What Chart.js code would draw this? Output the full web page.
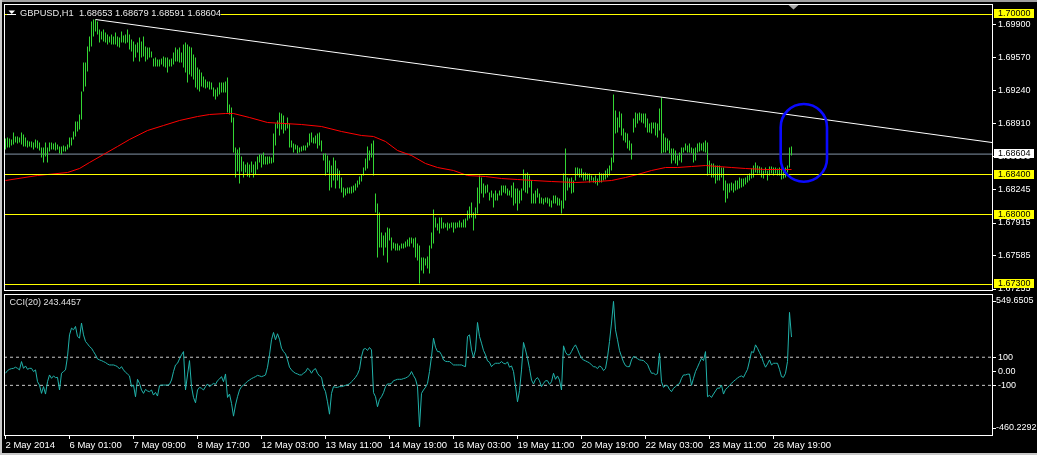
<!DOCTYPE html>
<html lang="en">
	<head>
		<meta charset="UTF-8" />
		<title>GBPUSD,H1</title>
		<script src="https://cdn.jsdelivr.net/npm/chart.js@4.4.3/dist/chart.umd.min.js"></script>
		<style>
			html,
			body {
				margin: 0;
				padding: 0;
				background: #000;
			}
			body {
				width: 1037px;
				height: 455px;
				position: relative;
				overflow: hidden;
			}
			canvas {
				position: absolute;
				left: 0;
			}
			#priceChart {
				top: 0;
			}
			#cciChart {
				top: 292px;
			}
		</style>
	</head>
	<body>
		<canvas id="priceChart" width="1037" height="292"></canvas>
		<canvas id="cciChart" width="1037" height="163"></canvas>

		<script>
			// hourly bars, left to right (bar 0 = 2 May 2014)
			const barHigh = [
				1.6876,1.6877,1.6876,1.6875,1.6882,1.6878,1.6878,1.6877,1.6882,1.688,
				1.6877,1.6874,1.6873,1.6873,1.6872,1.6875,1.6874,1.6872,1.6867,1.6867,
				1.6872,1.6867,1.6872,1.6872,1.6871,1.6872,1.687,1.6868,1.6868,1.6869,
				1.6868,1.687,1.6877,1.6877,1.6883,1.6893,1.6893,1.69,1.6923,1.6952,
				1.6952,1.6968,1.6978,1.6993,1.6995,1.6995,1.6993,1.6985,1.6983,1.6985,
				1.6982,1.698,1.6978,1.698,1.6978,1.6982,1.6978,1.6977,1.6983,1.6979,
				1.698,1.6985,1.698,1.6975,1.6973,1.697,1.6972,1.6977,1.6973,1.6978,
				1.6968,1.6967,1.6967,1.6963,1.6956,1.6957,1.6955,1.6955,1.6956,1.6958,
				1.6957,1.6957,1.6955,1.6956,1.6962,1.6967,1.6965,1.6967,1.6962,1.697,
				1.6972,1.697,1.6968,1.6967,1.696,1.6957,1.6947,1.6945,1.6942,1.6938,
				1.6935,1.6933,1.6933,1.6932,1.6927,1.6925,1.6927,1.6932,1.6932,1.6932,
				1.6933,1.6937,1.691,1.6907,1.6897,1.6867,1.6865,1.6867,1.6858,1.6853,
				1.685,1.6852,1.685,1.6853,1.685,1.6853,1.6858,1.686,1.686,1.6862,
				1.6858,1.6858,
				1.6858,1.6857,1.6881,1.6891,1.6894,1.6902,1.6901,1.6899,1.6891,1.6897,
				1.6891,1.6874,1.6871,1.687,1.6869,1.6867,1.6868,1.6869,1.6869,1.6872,
				1.6881,1.6882,1.6877,1.6879,1.6881,1.6882,1.6874,1.6861,1.6861,1.6859,
				1.6854,1.6849,1.6857,1.6854,1.6846,1.6844,1.6837,1.6827,1.6826,1.6827,
				1.6827,1.6828,1.6829,1.6831,1.6834,1.6838,1.684,1.6847,1.6856,1.6868,
				1.6864,1.6871,1.6874,1.6821,1.6811,1.6802,1.6782,1.6779,1.6782,1.6787,
				1.6786,1.6777,1.6772,1.6771,1.6771,1.6769,1.6771,1.6771,1.6773,1.6775,
				1.6777,1.6777,1.6776,1.6777,1.6771,1.6769,1.6757,1.6757,1.6756,1.6758,
				1.6769,1.6782,1.6805,1.6797,1.6791,1.6797,1.6797,1.6792,1.6791,1.6792,
				1.6791,1.6792,1.6792,1.6792,1.6792,1.6794,1.6792,1.6795,1.6796,1.6804,
				1.6808,1.6812,1.6802,1.6807,1.6827,1.6839,1.6837,1.6831,1.6829,1.683,
				1.6822,1.6824,1.6821,1.6824,1.6821,1.6824,1.6829,1.6829,1.6829,1.6826,
				1.6824,1.6829,1.6832,1.6826,1.6826,1.6824,1.6826,1.6845,1.6841,1.6842,
				1.6839,1.6834,
				1.6821,1.6824,1.6826,1.6821,1.6817,1.6816,1.6817,1.6817,1.6816,1.6814,
				1.6819,1.6819,1.6817,1.6816,1.6814,1.6841,1.6866,1.6837,1.6836,1.6837,
				1.6834,1.6847,1.6847,1.6846,1.6846,1.6842,1.6842,1.6841,1.6841,1.6839,
				1.6837,1.6839,1.6836,1.6842,1.6841,1.6841,1.6844,1.6846,1.6849,1.6857,
				1.692,1.6904,1.6897,1.6903,1.6901,1.6886,1.6882,1.6881,1.6874,1.6871,
				1.6896,1.6902,1.6901,1.6902,1.6901,1.6901,1.6901,1.6896,1.6891,1.6892,
				1.6892,1.6892,1.6891,1.6906,1.6917,1.6881,1.6877,1.6876,1.6874,1.6866,
				1.6866,1.6864,1.6859,1.6862,1.6867,1.6867,1.6871,1.6869,1.6871,1.6867,
				1.6866,1.6867,1.6871,1.6872,1.6871,1.6872,1.6874,1.6872,1.6854,1.6851,
				1.6851,1.6849,1.6849,1.6849,1.6847,1.6847,1.6834,1.6831,1.6831,1.6832,
				1.6831,1.6834,1.6834,1.6837,1.6836,1.6836,1.6837,1.6839,1.6841,1.6846,
				1.6849,1.6852,1.6849,1.6848,1.6847,1.6844,1.6847,1.6844,1.6848,1.6848,
				1.6847,1.6847,1.6846,1.6847,1.6846,1.6844,1.6847,1.6849,1.6867,1.6868,
			];
			const barLow = [
				1.6865,1.6867,1.6867,1.6869,1.687,1.6872,1.6871,1.6872,1.687,1.6868,
				1.6868,1.6867,1.6868,1.6867,1.6865,1.6867,1.6866,1.6864,1.6857,1.6852,
				1.6858,1.6852,1.6863,1.6865,1.6865,1.6864,1.6865,1.6861,1.686,1.6863,
				1.6863,1.6865,1.6867,1.6869,1.6875,1.6878,1.6883,1.6885,1.6895,1.6923,
				1.6928,1.6943,1.6963,1.6968,1.6978,1.6983,1.698,1.6972,1.6975,1.6973,
				1.6972,1.697,1.6972,1.697,1.697,1.697,1.6968,1.6967,1.6972,1.6972,
				1.6971,1.6972,1.6965,1.6963,1.6953,1.6957,1.6962,1.6953,1.6957,1.6958,
				1.6953,1.6955,1.6957,1.6957,1.6948,1.6948,1.6948,1.6948,1.695,1.6948,
				1.6947,1.6942,1.6948,1.6948,1.695,1.6953,1.6953,1.6952,1.6952,1.6947,
				1.6942,1.6932,1.694,1.6938,1.6935,1.6927,1.6925,1.6923,1.6928,1.6927,
				1.6926,1.6927,1.6925,1.6925,1.6918,1.6915,1.6918,1.692,1.6922,1.6922,
				1.6922,1.6902,1.69,1.6892,1.6862,1.6837,1.6843,1.6831,1.6843,1.6837,
				1.6842,1.6838,1.6837,1.6842,1.6837,1.684,1.6845,1.6852,1.6847,1.685,
				1.685,1.685,
				1.6851,1.6851,1.6852,1.6869,1.6886,1.6879,1.6885,1.6881,1.6884,1.6886,
				1.6867,1.6867,1.6862,1.6865,1.6861,1.6862,1.6863,1.6864,1.6864,1.6867,
				1.6869,1.6872,1.6871,1.6871,1.6866,1.6869,1.6863,1.6854,1.6839,1.6842,
				1.6824,1.6827,1.6834,1.6826,1.6834,1.6826,1.6822,1.6817,1.6819,1.6821,
				1.6821,1.6821,1.6822,1.6824,1.6827,1.683,1.6833,1.6839,1.6844,1.6846,
				1.6854,1.6857,1.6839,1.6802,1.6757,1.6767,1.6767,1.6759,1.6767,1.6752,
				1.6774,1.6764,1.6766,1.6764,1.6764,1.6764,1.6766,1.6766,1.6767,1.6768,
				1.6768,1.6771,1.6767,1.6757,1.6754,1.6731,1.6744,1.6741,1.6749,1.6746,
				1.6741,1.6766,1.6771,1.6787,1.6784,1.6781,1.6786,1.6786,1.6787,1.6784,
				1.6786,1.6787,1.6782,1.6786,1.6787,1.6787,1.6787,1.6787,1.6787,1.6794,
				1.6796,1.6797,1.6784,1.6796,1.6801,1.6811,1.6821,1.6817,1.6821,1.6822,
				1.6814,1.6817,1.6807,1.6814,1.6814,1.6819,1.6819,1.6822,1.6821,1.6819,
				1.6819,1.6817,1.6809,1.6811,1.6804,1.6811,1.6814,1.6824,1.6822,1.6821,
				1.6827,1.6811,
				1.6811,1.6811,1.6817,1.6811,1.6811,1.681,1.6812,1.6811,1.6808,1.6807,
				1.6811,1.6811,1.6809,1.6809,1.6801,1.6806,1.6814,1.6824,1.6827,1.6821,
				1.6822,1.6834,1.6839,1.6837,1.6837,1.6834,1.6834,1.6835,1.6832,1.6834,
				1.6832,1.6831,1.6829,1.6832,1.6832,1.6834,1.6835,1.6837,1.6839,1.6844,
				1.6852,1.6881,1.6882,1.6887,1.6879,1.6874,1.6872,1.6866,1.6864,1.6855,
				1.6882,1.6887,1.6891,1.6894,1.6892,1.6891,1.6887,1.6882,1.6882,1.6881,
				1.6886,1.6879,1.6877,1.6884,1.6861,1.6862,1.6862,1.6864,1.6861,1.6851,
				1.6854,1.6851,1.6849,1.6854,1.6852,1.6862,1.6864,1.6862,1.6862,1.6861,
				1.6852,1.6854,1.6862,1.6863,1.6864,1.6863,1.6862,1.6839,1.6841,1.6837,
				1.6837,1.6831,1.6834,1.6834,1.6837,1.6824,1.6812,1.6816,1.6822,1.6824,
				1.6822,1.6824,1.6825,1.6826,1.6827,1.6828,1.683,1.6832,1.6834,1.6836,
				1.6837,1.6842,1.6841,1.6841,1.6837,1.6836,1.6841,1.6834,1.6839,1.6841,
				1.6839,1.6841,1.6839,1.6839,1.6835,1.6836,1.6837,1.6842,1.6847,1.6859,
			];

			// moving average (red), read at a few bars
			const maBar = [
				0,16,21,31,37,42,49,56,62,71,79,87,96,102,110,114,122,131,148,158,
				168,178,184,190,196,203,210,216,224,231,240,248,256,264,273,285,296,303,310,316,
				323,330,336,343,350,356,363,370,380,393,
			];
			const maPrice = [
				1.6834,1.6839,1.684,1.6842,1.6846,1.6852,1.686,1.6868,1.6875,1.6884,
				1.6889,1.6894,1.6898,1.69,1.6901,1.6901,1.6897,1.6892,1.689,1.6888,
				1.6883,1.6879,1.6878,1.6873,1.6864,1.6859,1.6851,1.6847,1.6844,1.6839,
				1.6838,1.6836,1.6835,1.6834,1.6833,1.6832,1.6833,1.6834,1.6837,1.684,
				1.6844,1.6847,1.6847,1.6848,1.6849,1.6848,1.6847,1.6846,1.6845,1.6845,
			];

			// CCI(20), one value per bar
			const cciValue = [
				-14,5,14,19,21,29,21,10,69,21, 38,14,21,21,-2,10,-74,-98,-157,-109,
				-162,-74,-26,-50,-33,-45,-43,-133,-14,-2, 10,105,259,307,295,319,248,236,343,259,
				212,195,176,164,140,117,88,81,76,69, 62,52,45,45,45,40,33,17,33,10,
				-7,-19,-33,-109,-98,-181,-57,-86,-133,-157, -129,-140,-145,-133,-169,-150,-176,-102,-98,-98,
				-98,-98,-93,-62,-2,45,57,88,117,140, -133,-26,76,-109,-186,-224,-133,-114,-121,-133,
				-109,-90,-109,-98,-86,-93,-67,-55,-38,-74, -19,-186,-162,-228,-319,-240,-181,-133,-109,-98,
				-86,-71,-62,-52,-45,-38,-29,-33,-38,-33, -26,29,117,224,276,224,267,228,164,140,
				124,81,29,10,-5,-14,-19,-26,-26,-14, -5,21,10,-14,10,19,-14,-33,-43,-114,
				-145,-217,-305,-157,-109,-114,-114,-109,-109,-105, -100,-95,-90,-74,-60,-43,-21,14,105,157,
				162,148,169,152,-152,-181,-252,-200,-181,-152, -109,-90,-90,-86,-67,-62,-57,-57,-57,-52,
				-48,-40,-29,-2,-31,-55,-109,-395,-157,-133, -114,-86,-2,105,236,171,140,140,117,81,
				71,69,69,57,45,45,45,45,45,38, 33,248,259,152,100,152,347,248,200,148,
				117,74,64,33,48,57,57,57,69,57, 52,67,29,38,-2,-105,-217,-138,10,205,
				152,93,21,-62,-90,-57,-45,-67,-109,-86, -67,-67,-93,-74,-14,-57,-33,-62,-133,181,
				136,117,117,140,169,188,157,121,93,81, 74,67,60,45,33,31,19,38,29,5,
				19,100,212,343,497,295,224,148,105,67, 40,33,33,81,105,100,90,81,79,76,
				62,50,14,-14,-14,-24,-17,129,-74,-114, -102,-102,-129,-145,-121,-109,-95,-88,-50,-26,
				-26,-21,-20,-100,-50,-2,29,62,93,76, 140,-181,-171,-186,-162,-140,-119,-121,-98,-162,
				-129,-117,-100,-86,-71,-60,-48,-38,-33,-43, -14,14,74,140,133,188,164,133,105,62,
				29,52,81,45,57,57,57,14,-38,-43, -14,69,419,243.4457,
			];

			// objects on the chart
			const levelPrices = [1.7, 1.684, 1.68, 1.673];
			const bidPrice = 1.68604;
			const trendBar = [45, 493.25];
			const trendPrice = [1.6995, 1.6872];
			const ellipseBar = [387.6, 410.75];
			const ellipsePrice = [1.69105, 1.68328];

			// axes
			const xMin = -0.75;
			const xMax = 493.25;
			const priceMin = 1.67235;
			const priceMax = 1.70105;
			const priceTicks = [1.699, 1.6957, 1.6924, 1.6891, 1.6858, 1.68245, 1.67915, 1.67585, 1.67255];
			const priceTickLabels = ["1.69900", "1.69570", "1.69240", "1.68910", "1.68580", "1.68245", "1.67915", "1.67585", "1.67255"];
			const cciMax = 549.6505;
			const cciMin = -460.2292;
			const cciLevels = [100, -100];
			const cciTicks = [100, 0, -100];
			const cciTickLabels = ["100", "0.00", "-100"];
			const dateTickBars = [0, 32, 64, 96, 128, 160, 192, 224, 256, 288, 320, 352, 384];
			const dateTickLabels = [
				"2 May 2014", "6 May 01:00", "7 May 09:00", "8 May 17:00", "12 May 03:00", "13 May 11:00",
				"14 May 19:00", "16 May 03:00", "19 May 11:00", "20 May 19:00", "22 May 03:00", "23 May 11:00", "26 May 19:00",
			];

			const FONT = '"Liberation Sans", Arial, sans-serif';
			const BAR_COLOR = "#33d633";
			const EDGE_COLOR = "#c8c8c8";

			function flatLine(value, color, order, dash) {
				return {
					type: "line",
					data: [
						{ x: xMin, y: value },
						{ x: xMax, y: value },
					],
					borderColor: color,
					borderWidth: 1,
					borderDash: dash || [],
					pointRadius: 0,
					order: order,
				};
			}

			function drawFrame(ctx, area) {
				ctx.save();
				ctx.strokeStyle = "#ffffff";
				ctx.lineWidth = 1;
				ctx.strokeRect(area.left + 0.5, area.top + 0.5, area.right - area.left, area.bottom - area.top - 1);
				ctx.restore();
			}

			const pricePlugin = {
				id: "priceDecor",
				beforeDraw(chart) {
					const ctx = chart.ctx;
					ctx.save();
					ctx.fillStyle = "#000";
					ctx.fillRect(0, 0, chart.width, chart.height);
					ctx.fillStyle = "#a0a0a0";
					ctx.fillRect(0, 0, chart.width, 2);
					ctx.fillStyle = EDGE_COLOR;
					ctx.fillRect(0, 0, 2, chart.height);
					ctx.restore();
				},
				afterDatasetsDraw(chart) {
					const ctx = chart.ctx;
					const x = chart.scales.x;
					const y = chart.scales.y;
					const left = x.getPixelForValue(ellipseBar[0]);
					const right = x.getPixelForValue(ellipseBar[1]);
					const top = y.getPixelForValue(ellipsePrice[0]);
					const bottom = y.getPixelForValue(ellipsePrice[1]);
					const r = (right - left) / 2;
					ctx.save();
					ctx.strokeStyle = "#0a0aff";
					ctx.lineWidth = 2.6;
					ctx.beginPath();
					ctx.moveTo(left, top + r);
					ctx.arc(left + r, top + r, r, Math.PI, 0);
					ctx.lineTo(right, bottom - r);
					ctx.arc(left + r, bottom - r, r, 0, Math.PI);
					ctx.closePath();
					ctx.stroke();
					ctx.restore();
				},
				afterDraw(chart) {
					const ctx = chart.ctx;
					const area = chart.chartArea;
					const y = chart.scales.y;
					drawFrame(ctx, area);

					ctx.save();
					ctx.font = "9px " + FONT;
					ctx.textBaseline = "middle";
					ctx.textAlign = "left";
					const boxes = levelPrices.map((p) => ({ p: p, bg: "#ffff00" }));
					boxes.push({ p: bidPrice, bg: "#ffffff" });
					boxes.forEach((b) => {
						const py = y.getPixelForValue(b.p);
						ctx.fillStyle = b.bg;
						ctx.fillRect(994, Math.round(py) - 5, 40, 9);
						ctx.fillStyle = "#000";
						ctx.fillText(b.p.toFixed(5), 998, Math.round(py) - 0.5);
					});

					// symbol caption
					ctx.fillStyle = "#000";
					ctx.fillRect(7, 8, 214, 11);
					ctx.fillStyle = "#ffffff";
					ctx.beginPath();
					ctx.moveTo(8.5, 10.5);
					ctx.lineTo(15, 10.5);
					ctx.lineTo(11.75, 14);
					ctx.closePath();
					ctx.fill();
					ctx.fillRect(7, 14, 9, 1);
					ctx.fillStyle = "#e8e8e8";
					ctx.font = "9.3px " + FONT;
					ctx.fillText("GBPUSD,H1  1.68653 1.68679 1.68591 1.68604", 20, 13);

					// chart shift marker
					ctx.fillStyle = "#a8a8a8";
					ctx.beginPath();
					ctx.moveTo(788.5, 5);
					ctx.lineTo(798.5, 5);
					ctx.lineTo(793.5, 9.5);
					ctx.closePath();
					ctx.fill();
					ctx.restore();
				},
			};

			const cciPlugin = {
				id: "cciDecor",
				beforeDraw(chart) {
					const ctx = chart.ctx;
					ctx.save();
					ctx.fillStyle = "#000";
					ctx.fillRect(0, 0, chart.width, chart.height);
					ctx.fillStyle = EDGE_COLOR;
					ctx.fillRect(0, chart.height - 2, chart.width, 2);
					ctx.fillRect(0, 0, 2, chart.height);
					ctx.restore();
				},
				afterDraw(chart) {
					const ctx = chart.ctx;
					const area = chart.chartArea;
					drawFrame(ctx, area);
					ctx.save();
					ctx.font = "9px " + FONT;
					ctx.textBaseline = "middle";
					ctx.textAlign = "left";
					ctx.fillStyle = "#ffffff";
					ctx.strokeStyle = "#ffffff";
					const extremes = [
						{ text: cciMax.toFixed(4), py: area.top + 7 },
						{ text: cciMin.toFixed(4), py: area.bottom - 8 },
					];
					extremes.forEach((e) => {
						ctx.beginPath();
						ctx.moveTo(992, e.py + 0.5);
						ctx.lineTo(996, e.py + 0.5);
						ctx.stroke();
						ctx.fillText(e.text, 996, e.py);
					});
					ctx.fillStyle = "#e0e0e0";
					ctx.fillText("CCI(20) " + cciValue[cciValue.length - 1].toFixed(4), 9.5, area.top + 9);
					ctx.restore();
				},
			};

			const priceChart = new Chart(document.getElementById("priceChart").getContext("2d"), {
				type: "bar",
				data: {
					datasets: [
						flatLine(bidPrice, "#8494a6", 6),
						{
							type: "bar",
							data: barHigh.map((h, i) => ({ x: i, y: [barLow[i], h] })),
							backgroundColor: BAR_COLOR,
							borderWidth: 0,
							barThickness: 1,
							inflateAmount: 0,
							order: 5,
						},
						{
							type: "line",
							data: maBar.map((b, i) => ({ x: b, y: maPrice[i] })),
							borderColor: "#ff0000",
							borderWidth: 1,
							pointRadius: 0,
							order: 4,
						},
						{
							type: "line",
							data: trendBar.map((b, i) => ({ x: b, y: trendPrice[i] })),
							borderColor: "#ffffff",
							borderWidth: 1,
							pointRadius: 0,
							order: 3,
						},
						...levelPrices.map((p) => flatLine(p, "#ffff00", 2)),
					],
				},
				options: {
					responsive: false,
					animation: false,
					events: [],
					layout: { padding: { left: 4, top: 4, right: 0, bottom: 1 } },
					plugins: { legend: { display: false }, tooltip: { enabled: false } },
					scales: {
						x: { type: "linear", display: false, min: xMin, max: xMax, offset: false },
						y: {
							type: "linear",
							position: "right",
							min: priceMin,
							max: priceMax,
							afterBuildTicks: (scale) => {
								scale.ticks = priceTicks.map((v) => ({ value: v }));
							},
							afterFit: (scale) => {
								scale.width = 45;
								scale.paddingTop = 0;
								scale.paddingBottom = 0;
							},
							grid: { drawOnChartArea: false, tickLength: 4, color: "#ffffff" },
							border: { display: false },
							ticks: {
								color: "#ffffff",
								font: { family: FONT, size: 9 },
								padding: 2,
								autoSkip: false,
								callback: (v, i) => priceTickLabels[i],
							},
						},
					},
				},
				plugins: [pricePlugin],
			});

			const cciChart = new Chart(document.getElementById("cciChart").getContext("2d"), {
				type: "line",
				data: {
					datasets: [
						{
							data: cciValue.map((v, i) => ({ x: i, y: v })),
							borderColor: "#20b2aa",
							borderWidth: 1,
							pointRadius: 0,
							order: 1,
						},
						...cciLevels.map((v) => flatLine(v, "#c8c8c8", 2, [3, 3])),
					],
				},
				options: {
					responsive: false,
					animation: false,
					events: [],
					layout: { padding: { left: 4, top: 2, right: 0, bottom: 0 } },
					plugins: { legend: { display: false }, tooltip: { enabled: false } },
					scales: {
						x: {
							type: "linear",
							position: "bottom",
							min: xMin,
							max: xMax,
							offset: false,
							afterBuildTicks: (scale) => {
								scale.ticks = dateTickBars.map((v) => ({ value: v }));
							},
							afterFit: (scale) => {
								scale.height = 19;
								scale.paddingLeft = 0;
								scale.paddingRight = 0;
							},
							grid: { drawOnChartArea: false, tickLength: 3, color: "#ffffff" },
							border: { display: false },
							ticks: {
								color: "#ffffff",
								font: { family: FONT, size: 9.5 },
								align: "start",
								maxRotation: 0,
								autoSkip: false,
								padding: 1,
								callback: (v, i) => dateTickLabels[i],
							},
						},
						y: {
							type: "linear",
							position: "right",
							min: cciMin,
							max: cciMax,
							afterBuildTicks: (scale) => {
								scale.ticks = cciTicks.map((v) => ({ value: v }));
							},
							afterFit: (scale) => {
								scale.width = 45;
								scale.paddingTop = 0;
								scale.paddingBottom = 0;
							},
							grid: { drawOnChartArea: false, tickLength: 4, color: "#ffffff" },
							border: { display: false },
							ticks: {
								color: "#ffffff",
								font: { family: FONT, size: 9 },
								padding: 2,
								autoSkip: false,
								callback: (v, i) => cciTickLabels[i],
							},
						},
					},
				},
				plugins: [cciPlugin],
			});
		</script>
	</body>
</html>
